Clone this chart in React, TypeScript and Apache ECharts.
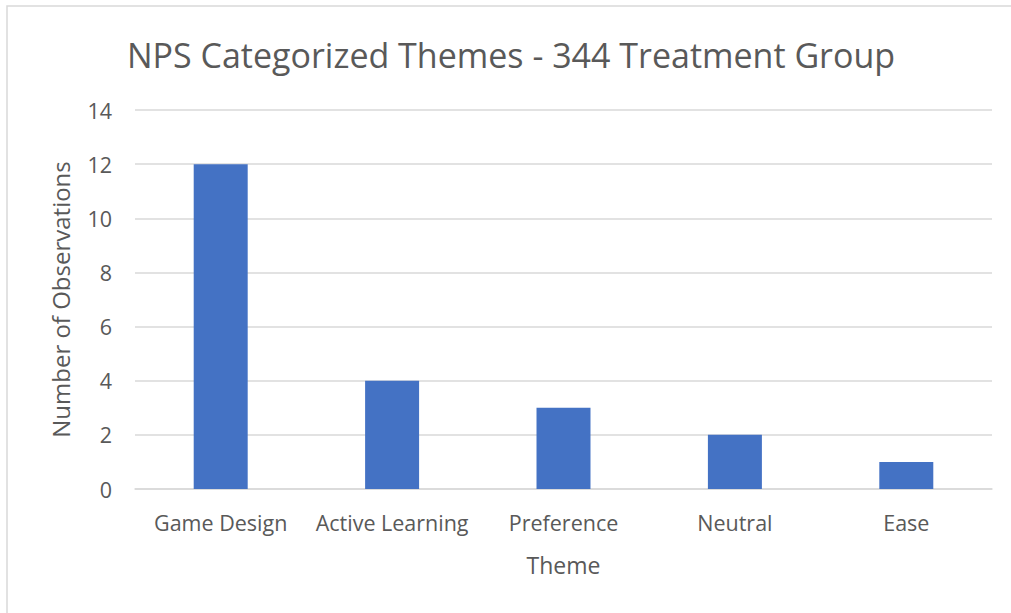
import React, { useEffect, useRef } from "react";
import * as echarts from "echarts";

const categories = ["Game Design", "Active Learning", "Preference", "Neutral", "Ease"];
const values = [12, 4, 3, 2, 1];
const titleText = "NPS Categorized Themes - 344 Treatment Group";
const yAxisTitle = "Number of Observations";
const xAxisTitle = "Theme";

const FONT = "'Open Sans', 'Noto Sans', sans-serif";
const GRAY = "#595959";

export default function App() {
  const ref = useRef<HTMLDivElement>(null);
  useEffect(() => {
    document.body.style.margin = "0";
    const chart = echarts.init(ref.current!, undefined, { renderer: "svg" });
    chart.setOption({
      animation: false,
      backgroundColor: "#ffffff",
      graphic: [
        {
          type: "rect",
          shape: { x: 7, y: 6, width: 1020, height: 640 },
          style: { fill: "none", stroke: "#d9d9d9", lineWidth: 1.5 },
          silent: true,
        },
      ],
      title: {
        text: titleText,
        left: 122,
        top: 33,
        textStyle: { fontFamily: FONT, fontSize: 34, fontWeight: "normal", color: GRAY },
      },
      grid: { left: 135, right: 19, top: 110, bottom: 124, containLabel: false },
      xAxis: {
        type: "category",
        data: categories,
        name: xAxisTitle,
        nameLocation: "middle",
        nameGap: 64,
        nameTextStyle: { fontFamily: FONT, fontSize: 23, color: GRAY },
        axisLine: { show: true, lineStyle: { color: "#d9d9d9", width: 1.5 } },
        axisTick: { show: false },
        axisLabel: { fontFamily: FONT, fontSize: 21.5, color: GRAY, margin: 22, interval: 0 },
      },
      yAxis: {
        type: "value",
        min: 0,
        max: 14,
        interval: 2,
        name: yAxisTitle,
        nameLocation: "middle",
        nameGap: 63,
        nameTextStyle: { fontFamily: FONT, fontSize: 24, color: GRAY },
        axisLine: { show: false },
        axisTick: { show: false },
        axisLabel: { fontFamily: FONT, fontSize: 21.5, color: GRAY, margin: 23 },
        splitLine: { lineStyle: { color: "#d9d9d9", width: 1.5 } },
      },
      series: [
        {
          type: "bar",
          data: values,
          barWidth: "31.5%",
          itemStyle: { color: "#4472C4" },
        },
      ],
    });
    return () => chart.dispose();
  }, []);
  return <div ref={ref} style={{ position: "absolute", left: 0, top: 0, width: 1011, height: 613 }} />;
}
